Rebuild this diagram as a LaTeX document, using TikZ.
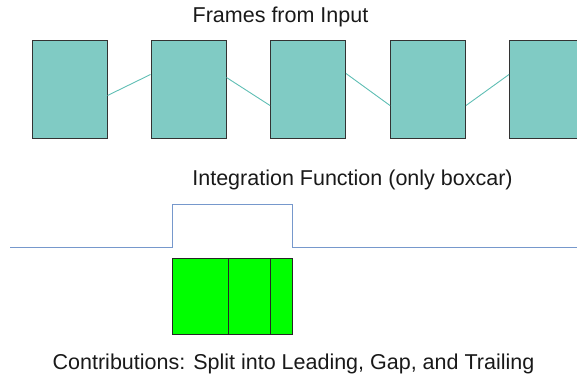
\documentclass[tikz,border=0pt]{standalone}
\usepackage{fontspec}
\setmainfont{Liberation Sans}
\usetikzlibrary{positioning}

\definecolor{framefill}{RGB}{128,203,196}
\definecolor{framelink}{RGB}{95,190,180}
\definecolor{boxcar}{RGB}{118,152,204}
\definecolor{contrib}{RGB}{0,255,0}

\tikzset{
    frame/.style={draw=black!80, line width=1pt, fill=framefill, inner sep=0pt,
        minimum width=75pt, minimum height=97pt},
    link/.style={framelink, line width=0.9pt},
    part/.style={draw=black!85, line width=1pt, fill=contrib, inner sep=0pt,
        outer sep=0pt, minimum height=76pt},
    label/.style={font=\fontsize{21.5}{24}\selectfont, text=black!90,
        inner sep=0pt, anchor=base},
}

\begin{document}
\begin{tikzpicture}[x=1pt, y=-1pt]
    \clip (0,0) rectangle (577,377);

    % Frames
    \node[label] (title) at (280.5,23) {Frames from Input};
    \foreach \i/\x in {1/69.5, 2/188.5, 3/308, 4/428, 5/547}
        \node[frame] (f\i) at (\x,89.5) {};
    \draw[link] ([yshift=-6pt]f1.east) -- ([yshift=15pt]f2.west);
    \draw[link] ([yshift=12pt]f2.east) -- ([yshift=-16pt]f3.west);
    \draw[link] ([yshift=16pt]f3.east) -- ([yshift=-16pt]f4.west);
    \draw[link] ([yshift=-16pt]f4.east) -- ([yshift=15pt]f5.west);

    % Boxcar
    \node[label] (func) at (352.5,185) {Integration Function (only boxcar)};
    \coordinate (bl) at (10,247);
    \coordinate (br) at (577,247);
    \draw[boxcar, line width=1pt] (bl) -- (172,247) -- (172,204) -- (292,204)
        -- (292,247) -- (br);

    % Contributions
    \node[part, minimum width=56pt] (lead) at (200,296) {};
    \node[part, minimum width=42pt, right=0pt of lead] (gap) {};
    \node[part, minimum width=22pt, right=0pt of gap] (trail) {};
    \node[label] (contribs) at (293.5,369) {Contributions: Split into Leading, Gap, and Trailing};
\end{tikzpicture}
\end{document}
